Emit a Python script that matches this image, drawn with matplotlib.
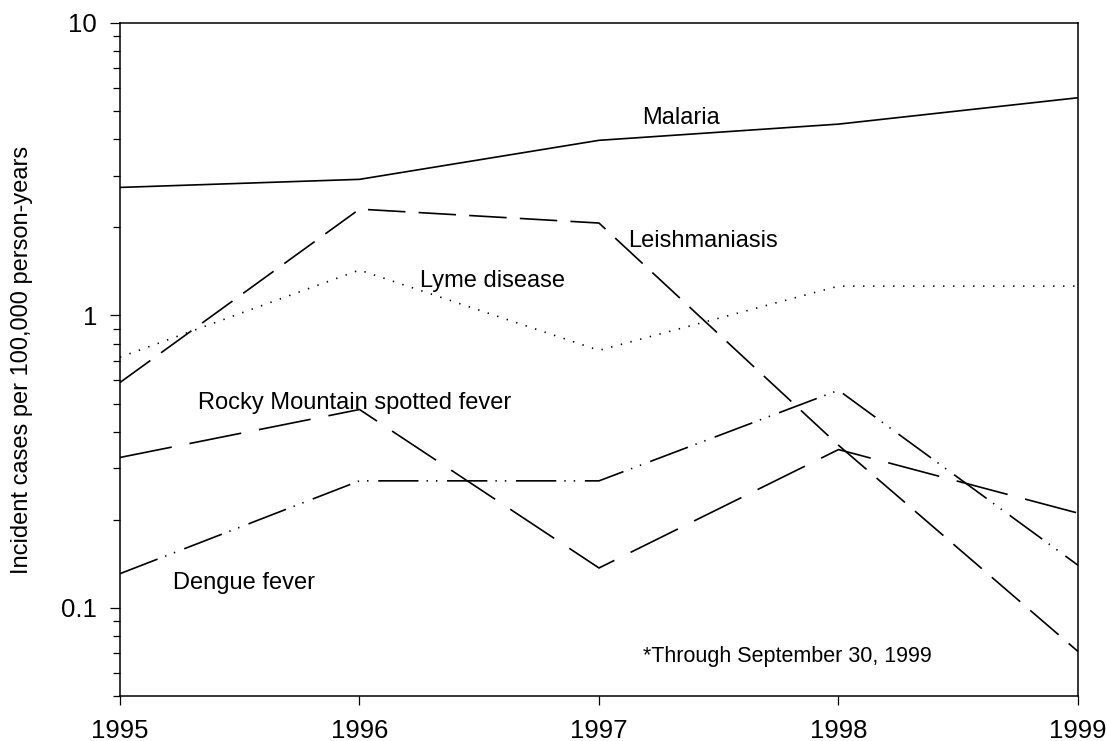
import numpy as np
import matplotlib
matplotlib.use('Agg')
import matplotlib.pyplot as plt
from matplotlib.ticker import LogLocator, NullFormatter, FixedLocator, FixedFormatter

plt.rcParams['font.family'] = ['Liberation Sans', 'DejaVu Sans']
plt.rcParams['lines.scale_dashes'] = False

# data (log scale)
years = [1995, 1996, 1997, 1998, 1999]
malaria = [2.74, 2.92, 3.97, 4.51, 5.55]
leishmaniasis = [0.59, 2.31, 2.07, 0.36, 0.071]
lyme = [0.72, 1.43, 0.76, 1.26, 1.26]
rmsf = [0.327, 0.477, 0.137, 0.348, 0.211]
dengue = [0.131, 0.272, 0.272, 0.555, 0.14]

fig = plt.figure(figsize=(11.07, 7.41), dpi=100)
ax = fig.add_axes([0.1084, 0.0607, 0.8654, 0.9083])

lw = 1.2
ax.plot(years, malaria, color='black', lw=lw, linestyle='-')
ax.plot(years, leishmaniasis, color='black', lw=lw, linestyle=(0, (27, 9.5)))
ax.plot(years, lyme, color='black', lw=lw, linestyle=(0, (1.0, 6.2)))
ax.plot(years, rmsf, color='black', lw=lw, linestyle=(0, (38, 13)))
ax.plot(years, dengue, color='black', lw=lw,
        linestyle=(0, (29, 5.8, 1.0, 5.8, 1.0, 7)))

ax.set_yscale('log')
ax.set_xlim(1995, 1999)
ax.set_ylim(0.05, 10)

ax.xaxis.set_major_locator(FixedLocator(years))
ax.xaxis.set_major_formatter(FixedFormatter([str(y) for y in years]))
ax.yaxis.set_major_locator(FixedLocator([0.1, 1, 10]))
ax.yaxis.set_major_formatter(FixedFormatter(['0.1', '1', '10']))
ax.yaxis.set_minor_locator(LogLocator(base=10, subs=np.arange(2, 10)))
ax.yaxis.set_minor_formatter(NullFormatter())

ax.tick_params(axis='both', which='major', direction='out', labelsize=18.5,
               width=0.9, color='black')
ax.tick_params(axis='x', which='major', length=6.5, pad=10)
ax.tick_params(axis='y', which='major', length=7.5, pad=9)
ax.tick_params(axis='y', which='minor', direction='out', length=5, width=0.9)
ax.tick_params(top=False, right=False, which='both')

for s in ax.spines.values():
    s.set_linewidth(1.1)

ax.set_ylabel('Incident cases per 100,000 person-years', fontsize=17)
ax.yaxis.set_label_coords(-0.091, 0.5)

fs = 17
ax.text(1995 + (642 - 120) / 239.5, 10 ** ((315 - 124) / 292), 'Malaria',
        fontsize=fs, va='baseline')
ax.text(1995 + (628 - 120) / 239.5, 10 ** ((315 - 247) / 292), 'Leishmaniasis',
        fontsize=fs, va='baseline')
ax.text(1995 + (420 - 120) / 239.5, 10 ** ((315 - 287) / 292), 'Lyme disease',
        fontsize=fs, va='baseline')
ax.text(1995 + (198 - 120) / 239.5, 10 ** ((315 - 408) / 292),
        'Rocky Mountain spotted fever', fontsize=fs, va='baseline')
ax.text(1995 + (173 - 120) / 239.5, 10 ** ((315 - 588) / 292), 'Dengue fever',
        fontsize=fs, va='baseline')
ax.text(1995 + (643 - 120) / 239.5, 10 ** ((315 - 661) / 292),
        '*Through September 30, 1999', fontsize=15.5, va='baseline')

fig.savefig('out.png', dpi=100)
